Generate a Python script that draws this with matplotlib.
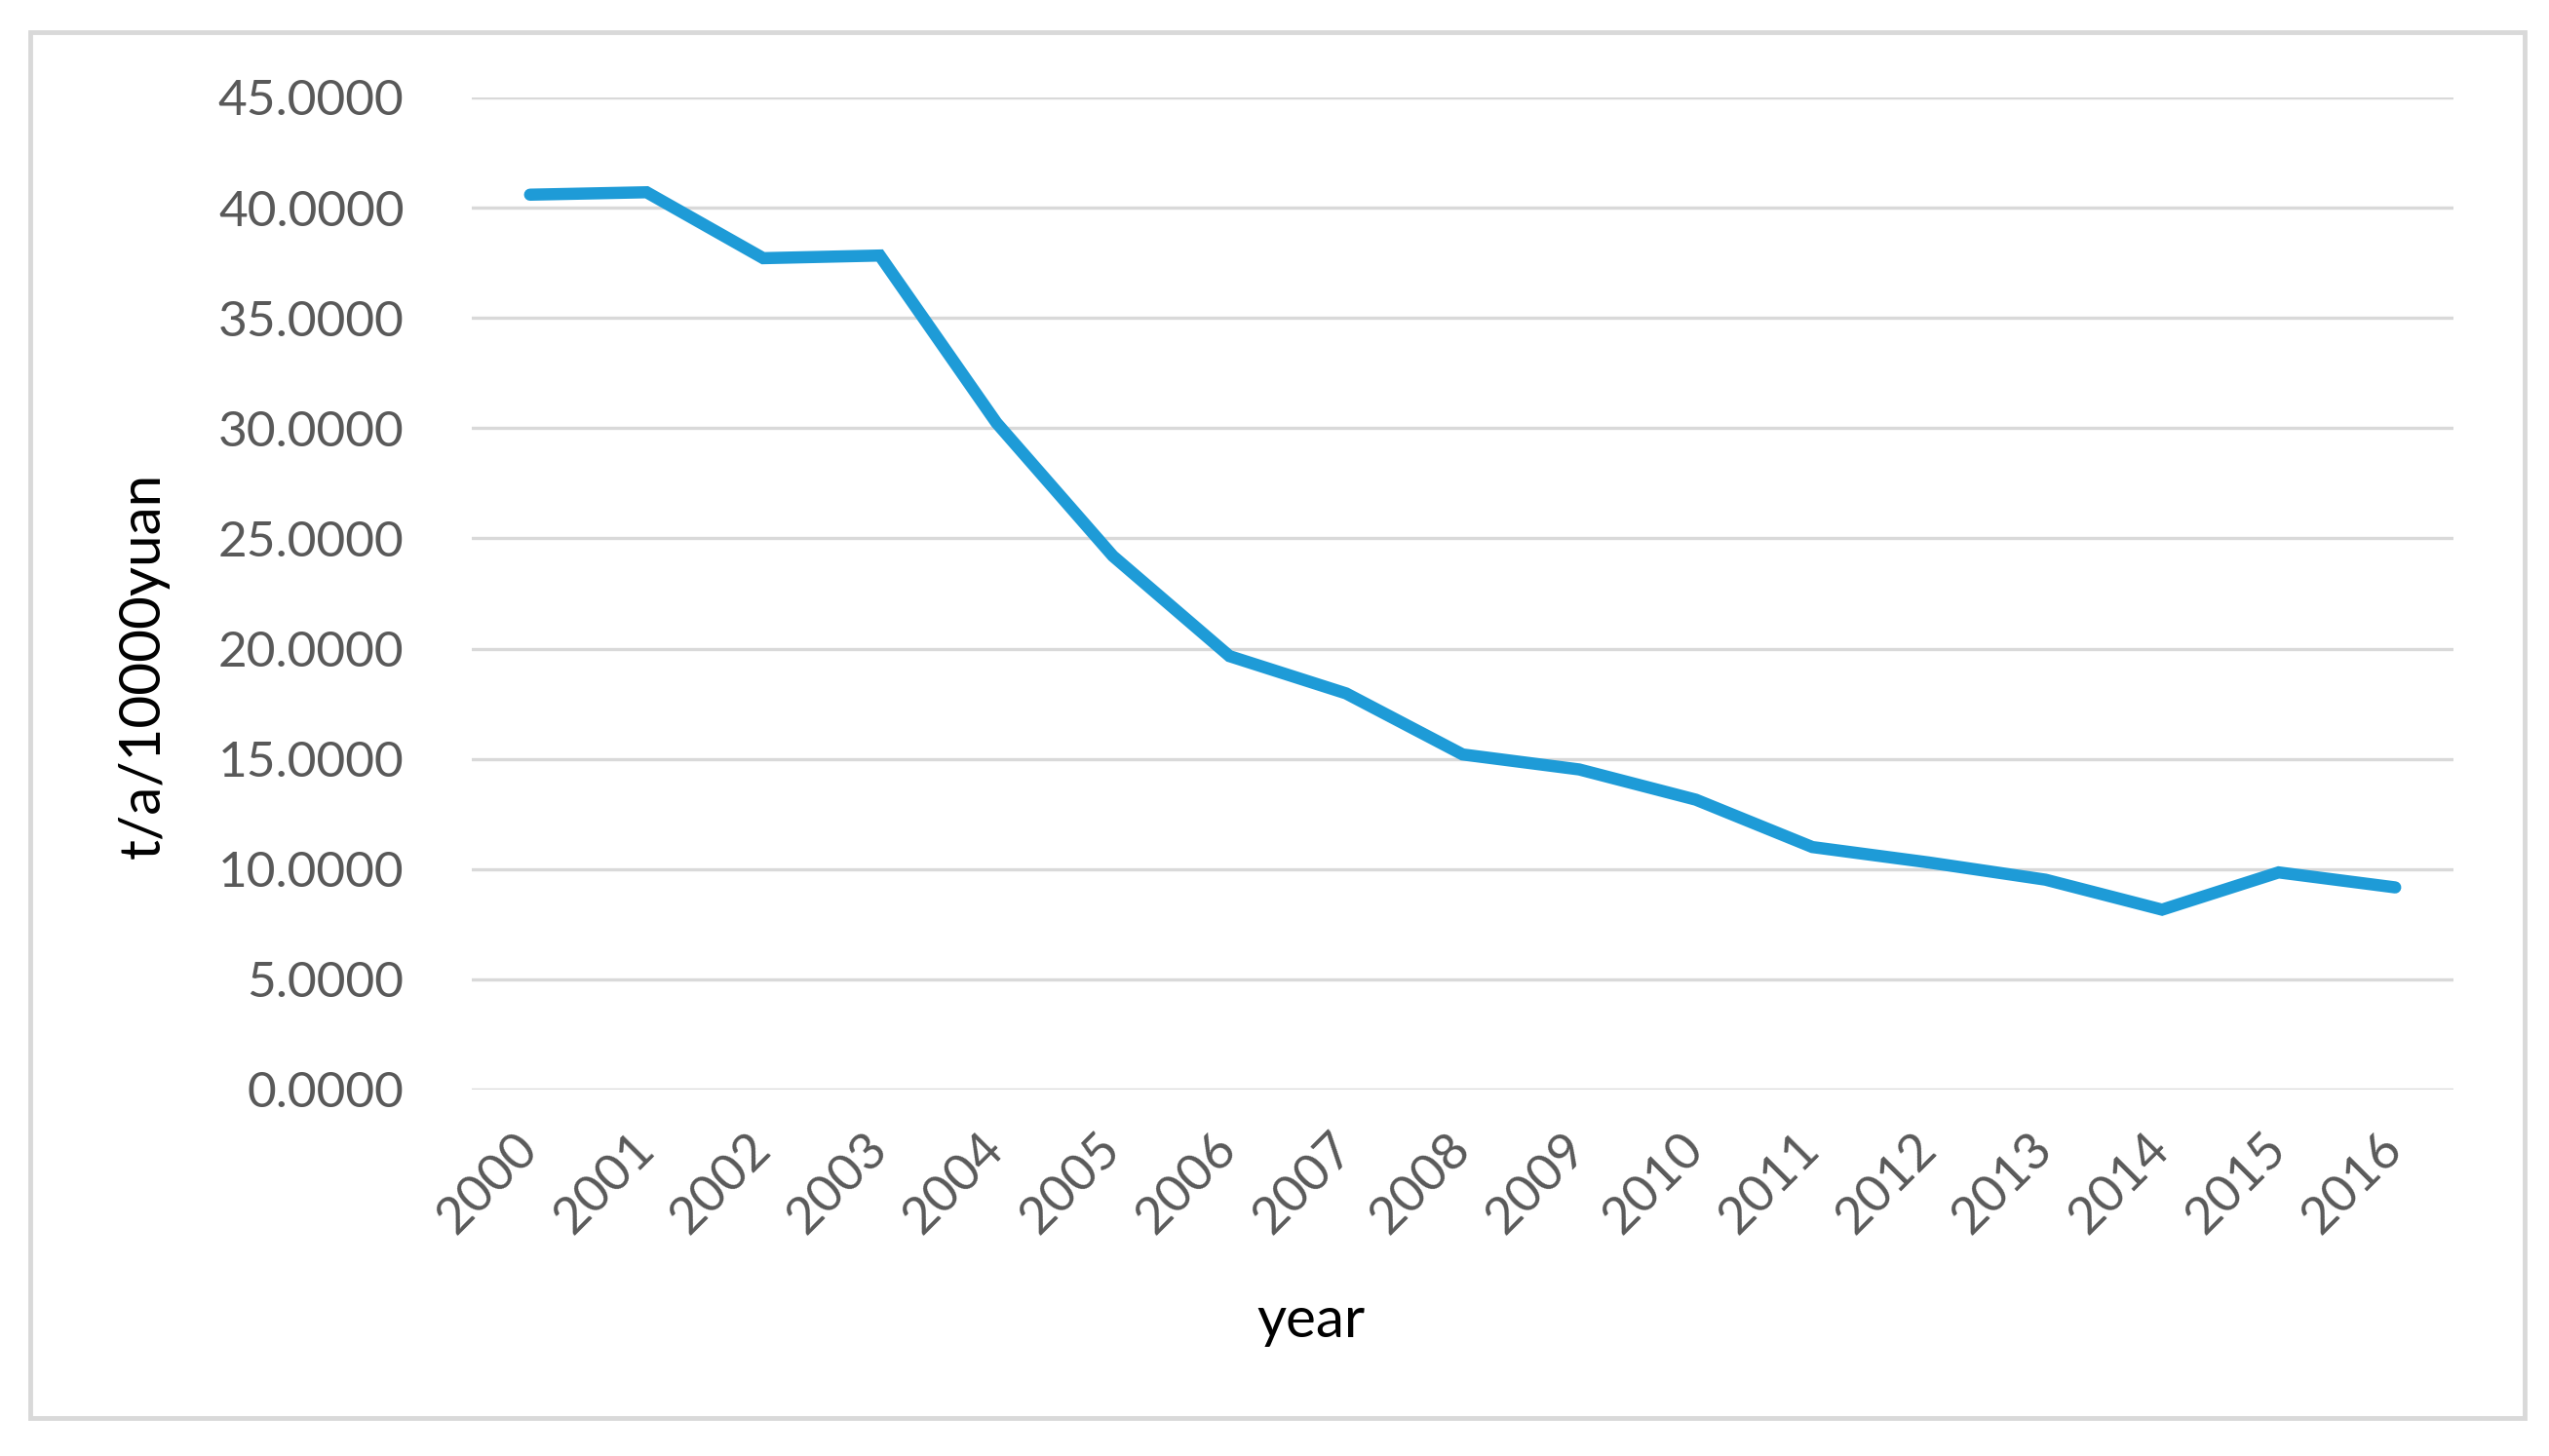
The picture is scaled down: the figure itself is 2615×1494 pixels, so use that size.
import matplotlib.pyplot as plt
from matplotlib.patches import Rectangle

# ── Daten ──
years = ["2000", "2001", "2002", "2003", "2004", "2005", "2006", "2007", "2008",
         "2009", "2010", "2011", "2012", "2013", "2014", "2015", "2016"]
intensity = [40.59, 40.70, 37.71, 37.83, 30.25, 24.20, 19.66, 17.97, 15.20,
             14.52, 13.15, 11.00, 10.30, 9.52, 8.16, 9.85, 9.17]
y_ticks = [0, 5, 10, 15, 20, 25, 30, 35, 40, 45]

plt.rcParams["font.family"] = ["Lato", "DejaVu Sans"]

W, H = 2615, 1494
fig = plt.figure(figsize=(W / 100, H / 100), dpi=100)

# Rahmen um das Diagramm
fig.patches.append(Rectangle((31 / W, 1 - 1455 / H), (2590 - 31) / W, (1455 - 33) / H,
                             transform=fig.transFigure, fill=False,
                             edgecolor="#D9D9D9", linewidth=3.5))

ax = fig.add_axes([484 / W, 1 - 1118 / H, (2517 - 484) / W, (1118 - 100) / H])

x = list(range(len(years)))
ax.plot(x, intensity, color="#1E9BD7", linewidth=9,
        solid_capstyle="round", solid_joinstyle="miter")

ax.set_xlim(-0.5, len(years) - 0.5)
ax.set_ylim(0, 45)
ax.set_yticks(y_ticks)
ax.set_yticklabels([f"{v:.4f}" for v in y_ticks])
ax.set_xticks(x)
ax.set_xticklabels(years, rotation=45, ha="right", va="center",
                   rotation_mode="anchor")

ax.grid(True, axis="y", color="#D9D9D9", linewidth=2.4)
ax.set_axisbelow(True)
for s in ax.spines.values():
    s.set_visible(False)

ax.tick_params(axis="y", length=0, pad=50, labelsize=37, labelcolor="#595959")
ax.tick_params(axis="x", length=0, pad=38, labelsize=38, labelcolor="#595959")

fig.text(147 / W, 1 - 683 / H, "t/a/10000yuan", rotation=90, fontsize=42,
         color="black", ha="center", va="center")
fig.text(1345 / W, 1 - 1355 / H, "year", fontsize=42, color="black",
         ha="center", va="center")

fig.savefig("out.png", dpi=100)
